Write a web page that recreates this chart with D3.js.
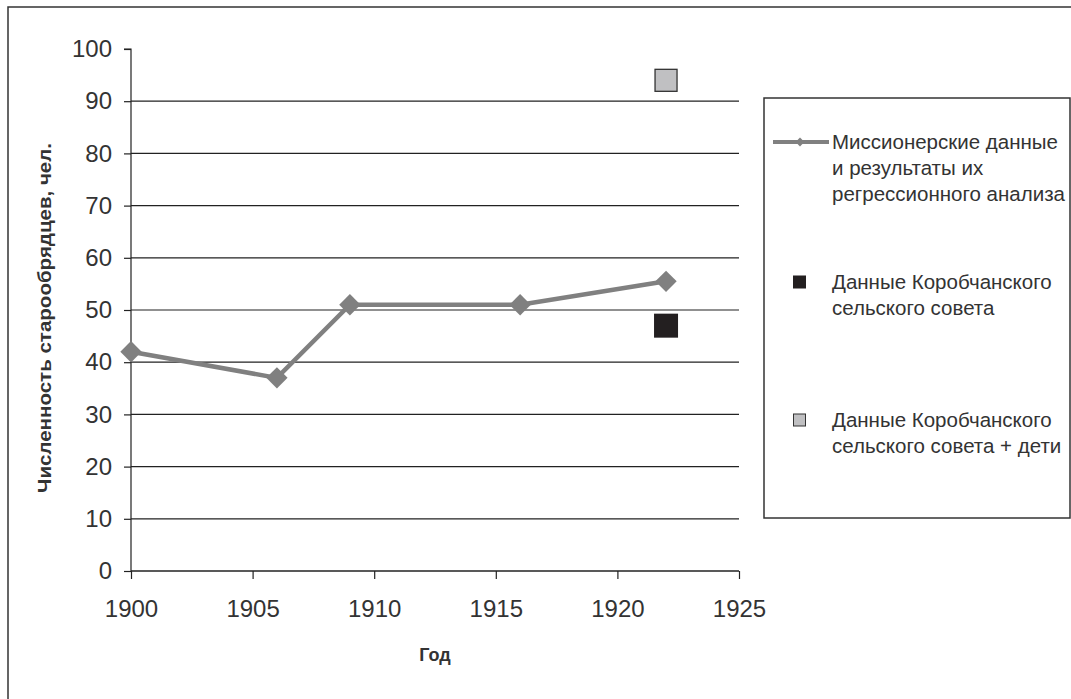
<!DOCTYPE html>
<html><head><meta charset="utf-8">
<script src="https://cdn.jsdelivr.net/npm/d3@7"></script>
<style>body{margin:0;background:#fff}svg{display:block}</style>
</head><body>
<svg id="c" width="1071" height="699"></svg>
<script>
const years = [1900, 1906, 1909, 1916, 1922];
const mission = [42, 37, 51, 51, 55.5];
const councilYear = [1922];
const council = [47];
const councilKids = [94];
const xTicks = [1900, 1905, 1910, 1915, 1920, 1925];
const yTicks = [0, 10, 20, 30, 40, 50, 60, 70, 80, 90, 100];
const legendLabels = [
  ["Миссионерские данные", "и результаты их", "регрессионного анализа"],
  ["Данные Коробчанского", "сельского совета"],
  ["Данные Коробчанского", "сельского совета + дети"]
];

const svg = d3.select("#c");
const font = "'Liberation Sans', Arial, sans-serif";
const txt = "#333";

// outer frame
svg.append("rect").attr("x", 8).attr("y", 7).attr("width", 1120).attr("height", 740)
  .attr("fill", "none").attr("stroke", "#333").attr("stroke-width", 1.5);

const x = d3.scaleLinear().domain([1900, 1925]).range([131, 739]);
const y = d3.scaleLinear().domain([0, 100]).range([571, 49]);

// gridlines
svg.append("g").selectAll("line").data(yTicks.filter(d => d > 0 && d < 100)).join("line")
  .attr("x1", x(1900)).attr("x2", x(1925)).attr("y1", d => y(d)).attr("y2", d => y(d))
  .attr("stroke", "#222").attr("stroke-width", 1.2);

// y axis
const ya = svg.append("g").attr("transform", `translate(${x(1900)},0)`)
  .call(d3.axisLeft(y).tickValues(yTicks).tickSize(7).tickPadding(12));
ya.select(".domain").attr("stroke", "#222").attr("stroke-width", 1.2).attr("d", `M-7,${y(100)}H0V${y(0)}`);
ya.selectAll(".tick line").attr("stroke", "#222").attr("stroke-width", 1.2);
ya.selectAll("text").attr("font-family", font).attr("font-size", 24).attr("fill", txt);

// x axis
const xa = svg.append("g").attr("transform", `translate(0,${y(0)})`)
  .call(d3.axisBottom(x).tickValues(xTicks).tickFormat(d3.format("d")).tickSize(8).tickPadding(21));
xa.select(".domain").attr("stroke", "#222").attr("stroke-width", 1.5).attr("d", `M${x(1900)},0H${x(1925)}`);
xa.selectAll(".tick line").attr("stroke", "#222").attr("stroke-width", 1.2);
xa.selectAll("text").attr("font-family", font).attr("font-size", 24).attr("fill", txt);

// axis titles
svg.append("text").attr("x", 435).attr("y", 661).attr("text-anchor", "middle")
  .attr("font-family", font).attr("font-size", 18).attr("font-weight", "bold").attr("fill", txt).text("Год");
svg.append("text").attr("transform", "translate(51,318) rotate(-90)").attr("text-anchor", "middle")
  .attr("font-family", font).attr("font-size", 19).attr("font-weight", "bold").attr("fill", txt)
  .attr("textLength", 350).attr("lengthAdjust", "spacingAndGlyphs")
  .text("Численность старообрядцев, чел.");

// series line
const pts = years.map((d, i) => [d, mission[i]]);
svg.append("path").datum(pts)
  .attr("d", d3.line().x(d => x(d[0])).y(d => y(d[1])))
  .attr("fill", "none").attr("stroke", "#808080").attr("stroke-width", 4.5);
const diamond = d3.symbol().type(d3.symbolDiamond2).size(290);
svg.append("g").selectAll("path").data(pts).join("path")
  .attr("transform", d => `translate(${x(d[0])},${y(d[1])})`)
  .attr("d", diamond).attr("fill", "#808080");

// squares
svg.append("g").selectAll("rect").data(councilYear.map((d, i) => [d, council[i]])).join("rect")
  .attr("x", d => x(d[0]) - 12).attr("y", d => y(d[1]) - 12).attr("width", 24).attr("height", 24)
  .attr("fill", "#231f20");
svg.append("g").selectAll("rect").data(councilYear.map((d, i) => [d, councilKids[i]])).join("rect")
  .attr("x", d => x(d[0]) - 11).attr("y", d => y(d[1]) - 11).attr("width", 22).attr("height", 22)
  .attr("fill", "#c0c0c2").attr("stroke", "#333").attr("stroke-width", 1.3);

// legend
const lg = svg.append("g");
lg.append("rect").attr("x", 764).attr("y", 98).attr("width", 306).attr("height", 420)
  .attr("fill", "#fff").attr("stroke", "#333").attr("stroke-width", 1.5);
const entryY = [142, 282, 420];
legendLabels.forEach((lines, i) => {
  const g = lg.append("g");
  lines.forEach((t, j) => {
    g.append("text").attr("x", 832).attr("y", entryY[i] + j * 26).attr("dy", "0.35em")
      .attr("font-family", font).attr("font-size", 20.5).attr("fill", txt).text(t);
  });
});
lg.append("line").attr("x1", 773).attr("x2", 829).attr("y1", entryY[0]).attr("y2", entryY[0])
  .attr("stroke", "#808080").attr("stroke-width", 4);
lg.append("path").attr("transform", `translate(800,${entryY[0]})`)
  .attr("d", d3.symbol().type(d3.symbolDiamond2).size(50)).attr("fill", "#808080");
lg.append("rect").attr("x", 793).attr("y", entryY[1] - 6.5).attr("width", 13).attr("height", 13).attr("fill", "#231f20");
lg.append("rect").attr("x", 793.5).attr("y", entryY[2] - 6).attr("width", 12).attr("height", 12)
  .attr("fill", "#c0c0c2").attr("stroke", "#333").attr("stroke-width", 1);
</script>
</body></html>
